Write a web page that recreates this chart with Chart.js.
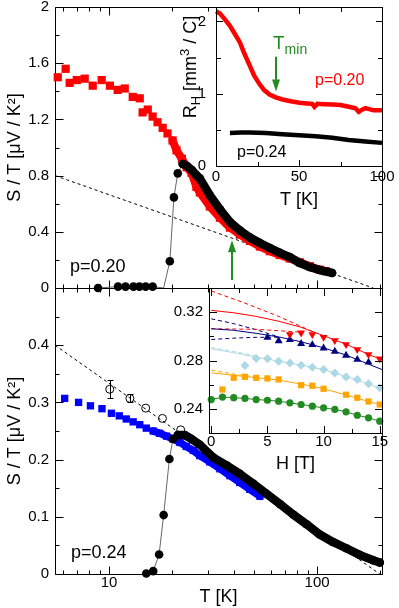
<!DOCTYPE html>
<html>
<head>
<meta charset="utf-8">
<script src="https://cdn.jsdelivr.net/npm/chart.js@4.4.0/dist/chart.umd.min.js"></script>
<style>
  html, body { margin: 0; padding: 0; background: #fff; }
  #fig { position: relative; width: 399px; height: 608px; }
  #fig canvas { position: absolute; left: 0; top: 0; }
  #fig .edge { position: absolute; background: #000; }
</style>
</head>
<body>
<div id="fig">
  <canvas id="mainTop" width="399" height="608"></canvas>
  <canvas id="mainBot" width="399" height="608"></canvas>
  <canvas id="insetTop" width="399" height="608"></canvas>
  <canvas id="insetBot" width="399" height="608"></canvas>
</div>
<script>
// ---- tick values / labels ----
const T_TICKS = [6, 7, 8, 9, 10, 20, 30, 40, 50, 60, 70, 80, 90, 100, 200];
const T_LABELS = [10, 100];
const S20_TICKS = [0, 0.2, 0.4, 0.6, 0.8, 1, 1.2, 1.4, 1.6, 1.8, 2];
const S20_LABELS = [0, 0.4, 0.8, 1.2, 1.6, 2];
const S24_TICKS = [0, 0.05, 0.1, 0.15, 0.2, 0.25, 0.3, 0.35, 0.4, 0.45, 0.5];
const S24_LABELS = [0, 0.1, 0.2, 0.3, 0.4];
const RHT_TICKS = [0, 25, 50, 75, 100];
const RHT_LABELS = [0, 50, 100];
const RH_TICKS = [0, 0.5, 1, 1.5, 2];
const RH_LABELS = [0, 1, 2];
const H_TICKS = [0, 2.5, 5, 7.5, 10, 12.5, 15];
const H_LABELS = [0, 5, 10, 15];
const SH_TICKS = [0.24, 0.26, 0.28, 0.3, 0.32];
const SH_LABELS = [0.24, 0.28, 0.32];

// ---- upper panel, p=0.20 : S/T vs T ----
const RED20_T = [5.67, 6.19, 6.47, 7.0, 7.64, 8.35, 9.22, 10.1, 11.0, 11.9, 13.0, 14.05, 14.5, 15.35, 16.2, 17.1, 18.1, 19.1, 20.2, 21.1, 22.4, 23.6, 24.9, 26.3, 27.3, 30.5, 34.1, 38.1, 42.5, 47.5, 53.1, 59.3, 66.2, 73.9, 82.6, 92.3, 103, 110];
const RED20_V = [1.50, 1.56, 1.46, 1.48, 1.49, 1.44, 1.48, 1.44, 1.41, 1.42, 1.36, 1.35, 1.25, 1.27, 1.22, 1.18, 1.14, 1.10, 1.05, 0.98, 0.92, 0.86, 0.82, 0.72, 0.68, 0.58, 0.50, 0.43, 0.38, 0.335, 0.295, 0.262, 0.235, 0.21, 0.183, 0.155, 0.13, 0.12];
const BLK20_T = [8.85, 11.05, 12.0, 13.1, 14.0, 15.0, 16.2, 19.6, 20.5, 21.4, 22.6, 23.6, 25.0, 26.4, 27.3, 30.5, 34.1, 38.1, 42.5, 47.5, 53.1, 59.3, 66.2, 73.9, 82.6, 92.3, 103, 118];
const BLK20_V = [0, 0.01, 0.01, 0.01, 0.01, 0.01, 0.01, 0.19, 0.645, 0.816, 0.883, 0.87, 0.84, 0.80, 0.78, 0.66, 0.56, 0.47, 0.41, 0.36, 0.32, 0.285, 0.25, 0.22, 0.178, 0.149, 0.128, 0.107];
const TR20_T = [8.85, 11.05, 12.0, 13.1, 14.0, 15.0, 16.2, 18.3, 19.6, 20.5, 21.4, 22.6];
const TR20_V = [0, 0.01, 0.01, 0.01, 0.01, 0.01, 0.01, 0, 0.19, 0.645, 0.816, 0.883];
const DASH20_T = [5.5, 186];
const DASH20_V = [0.8, 0];

// ---- lower panel, p=0.24 ----
const BLUE24_T = [6.12, 7.14, 8.14, 9.25, 10.27, 11.2, 12.1, 13.06, 14.05, 15.1, 16.3, 17.5, 18.9, 20.3, 21.9, 23.5, 25.4, 27.3, 30.5, 34.1, 38.1, 42.5, 47.5, 53.1];
const BLUE24_V = [0.307, 0.300, 0.294, 0.289, 0.281, 0.2765, 0.271, 0.266, 0.261, 0.255, 0.250, 0.246, 0.241, 0.236, 0.230, 0.223, 0.216, 0.207, 0.196, 0.184, 0.172, 0.160, 0.148, 0.136];
const BLK24_T = [15.1, 16.3, 17.4, 18.3, 19.5, 20.3, 21.4, 23.1, 24.9, 27.3, 31.6, 36.7, 42.5, 49.3, 57.2, 66.4, 76.7, 88.9, 103, 119, 138, 161, 186, 200];
const BLK24_V = [0.001, 0.005, 0.034, 0.103, 0.201, 0.236, 0.243, 0.243, 0.236, 0.226, 0.204, 0.190, 0.175, 0.158, 0.140, 0.122, 0.104, 0.087, 0.069, 0.056, 0.045, 0.033, 0.024, 0.020];
const OPEN_T = [10.08, 12.6, 15.0, 18.06, 22.1];
const OPEN_V = [0.323, 0.307, 0.290, 0.272, 0.252];
const OPEN_ERR = [0.016, 0.007, 0, 0, 0];
const DASH24_T = [5.5, 200];
const DASH24_V = [0.4, 0];

// ---- upper inset: R_H vs T ----
const RH20_T = [0, 2.4, 5, 8.4, 11, 14.4, 17, 20.4, 23, 26.3, 29, 32.3, 36, 40.1, 45, 50.3, 55, 58, 59.3, 61, 65, 70, 75, 80, 84, 86, 88, 90, 95, 100];
const RH20_V = [2.14, 2.11, 2.04, 1.94, 1.84, 1.71, 1.56, 1.385, 1.25, 1.13, 1.05, 0.99, 0.95, 0.92, 0.895, 0.875, 0.865, 0.86, 0.82, 0.86, 0.855, 0.85, 0.845, 0.82, 0.80, 0.75, 0.78, 0.80, 0.77, 0.77];
const RH24_T = [8.4, 15, 20.4, 30, 40, 50, 60, 70, 80, 90, 100];
const RH24_V = [0.456, 0.462, 0.465, 0.455, 0.44, 0.425, 0.41, 0.39, 0.36, 0.34, 0.32];

// ---- lower inset: S/T vs H ----
const RED_H = [7, 8, 9, 10, 11, 12, 13, 14, 15];
const RED_S = [0.3015, 0.3029, 0.3015, 0.2993, 0.2966, 0.2933, 0.2891, 0.2850, 0.2814];
const NAVY_H = [5, 6, 7, 8, 9, 10, 11, 12, 13, 14];
const NAVY_S = [0.2990, 0.2962, 0.2972, 0.2940, 0.2930, 0.2902, 0.2875, 0.2842, 0.2808, 0.2785];
const LB_H = [3, 4, 5, 6, 7, 8, 9, 10, 11, 12, 13, 14, 15];
const LB_S = [0.2759, 0.2817, 0.2814, 0.2794, 0.2780, 0.2761, 0.2744, 0.2725, 0.2697, 0.2664, 0.2642, 0.2607, 0.2574];
const OR_H = [1, 2, 3, 4, 5, 6, 8, 9, 10, 12, 13, 14, 15];
const OR_S = [0.2560, 0.2657, 0.2665, 0.2657, 0.2652, 0.2643, 0.2596, 0.2591, 0.2566, 0.2517, 0.2492, 0.2461, 0.2436];
const GR_H = [0, 1, 2, 3, 4, 5, 6, 7, 8, 9, 10, 11, 12, 13, 14, 15];
const GR_S = [0.2477, 0.2497, 0.2492, 0.2486, 0.2477, 0.2471, 0.2463, 0.2450, 0.2436, 0.2422, 0.2408, 0.2395, 0.2375, 0.2347, 0.2326, 0.2298];
const FIT_H = [0, 2, 4, 6, 8, 10, 12, 14, 15.2];
const RED_FIT = [0.3215, 0.3195, 0.3165, 0.3125, 0.3075, 0.3005, 0.2935, 0.2850, 0.2805];
const NAVY_FIT = [0.3063, 0.3050, 0.3025, 0.2995, 0.2955, 0.2905, 0.2845, 0.2770, 0.2725];
const LB_FIT = [0.2897, 0.2865, 0.2828, 0.2795, 0.2762, 0.2725, 0.2668, 0.2605, 0.2565];
const OR_FIT = [0.2698, 0.2678, 0.2658, 0.2638, 0.2605, 0.2566, 0.2515, 0.2461, 0.2432];
const RED_D1_H = [0, 3, 6, 9];
const RED_D1 = [0.3375, 0.3275, 0.3165, 0.3040];
const RED_D2_H = [0, 4, 8];
const RED_D2 = [0.3063, 0.3058, 0.3035];
const NAVY_D_H = [0, 2, 4, 6];
const NAVY_D1 = [0.3145, 0.3105, 0.3055, 0.2995];
const NAVY_D2 = [0.2974, 0.2985, 0.2992, 0.2992];
const LBOR_D_H = [0, 2, 4];
const LB_D = [0.2908, 0.2875, 0.2838];
const OR_D = [0.2720, 0.2688, 0.2664];

const FONT = '"Liberation Sans", Arial, Helvetica, sans-serif';
const RED = '#ff0000', BLUE = '#0000ff', NAVY = '#000080', LBLUE = '#add8e6', ORANGE = '#ffa500', GREEN = '#228b22';

Chart.defaults.font.family = FONT;
Chart.defaults.font.size = 15;
Chart.defaults.color = '#000';

const pts = (xs, ys) => xs.map((x, i) => ({ x, y: ys[i] }));

function axis(type, min, max, ticks, labels, o) {
  return {
    type, min, max,
    grid: { display: false, drawTicks: false },
    border: { display: false },
    afterBuildTicks: s => { s.ticks = ticks.map(v => ({ value: v })); },
    afterFit: s => {
      if (o.w !== undefined) s.width = o.w;
      if (o.h !== undefined) s.height = o.h;
      s.paddingLeft = s.paddingRight = s.paddingTop = s.paddingBottom = 0;
    },
    ticks: {
      display: o.showLabels !== false, autoSkip: false, maxRotation: 0, minRotation: 0,
      padding: o.pad || 0, font: { size: 15 },
      callback: v => labels.includes(v) ? String(v) : ''
    },
    title: o.title ? { display: true, text: o.title, font: { size: 18 }, padding: o.tpad } : { display: false }
  };
}

function markers(xs, ys, style, r, color, extra) {
  return Object.assign({
    data: pts(xs, ys), pointStyle: style, pointRadius: r,
    pointBackgroundColor: color, pointBorderColor: color, pointBorderWidth: 0,
    showLine: false, clip: false
  }, extra || {});
}

function curve(xs, ys, color, width, dash) {
  return {
    data: pts(xs, ys), showLine: true, pointRadius: 0, borderColor: color,
    borderWidth: width, borderDash: dash || [], clip: false
  };
}

// dense part of a series drawn as a thick band under its markers
function band(fromX, color, width) {
  return {
    showLine: true, borderWidth: width, borderColor: color,
    borderJoinStyle: 'round', borderCapStyle: 'round',
    segment: { borderColor: c => c.p0.parsed.x >= fromX ? color : 'rgba(0,0,0,0)' }
  };
}

function drawRich(ctx, parts, x, y, color, align, angle) {
  ctx.save();
  ctx.translate(x, y);
  if (angle) ctx.rotate(angle);
  ctx.fillStyle = color;
  ctx.textBaseline = 'middle';
  ctx.textAlign = 'left';
  let w = 0;
  for (const [t, s] of parts) { ctx.font = s + 'px ' + FONT; w += ctx.measureText(t).width; }
  let cx = align === 'center' ? -w / 2 : 0;
  for (const [t, s, dy] of parts) {
    ctx.font = s + 'px ' + FONT;
    ctx.fillText(t, cx, dy || 0);
    cx += ctx.measureText(t).width;
  }
  ctx.restore();
}

// frame + inward ticks on the canvas (main panels)
function strokeFrame(chart, d) {
  const { ctx, chartArea: a } = chart;
  const xs = chart.scales.x, ys = chart.scales.y;
  const L = Math.round(a.left) + 0.5, R = Math.round(a.right) + 0.5;
  const T = Math.round(a.top) + 0.5, B = Math.round(a.bottom) + 0.5;
  ctx.save();
  ctx.strokeStyle = '#000';
  ctx.lineWidth = 1;
  ctx.setLineDash([]);
  ctx.beginPath();
  for (const t of xs.ticks) {
    const p = Math.round(xs.getPixelForValue(t.value)) + 0.5;
    const n = d.xMajor.includes(t.value) ? d.big : d.small;
    ctx.moveTo(p, B); ctx.lineTo(p, B - n);
    ctx.moveTo(p, T); ctx.lineTo(p, T + n);
  }
  for (const t of ys.ticks) {
    const p = Math.round(ys.getPixelForValue(t.value)) + 0.5;
    const n = d.yMajor.includes(t.value) ? d.big : d.small;
    ctx.moveTo(L, p); ctx.lineTo(L + n, p);
    ctx.moveTo(R, p); ctx.lineTo(R - n, p);
  }
  ctx.moveTo(L, T); ctx.lineTo(R, T); ctx.lineTo(R, B); ctx.lineTo(L, B); ctx.closePath();
  ctx.stroke();
  ctx.restore();
}

// same frame + ticks for the insets, laid over the page from the inset's scales
function overlayFrame(chart, d) {
  const fig = document.getElementById('fig');
  const a = chart.chartArea;
  const xs = chart.scales.x, ys = chart.scales.y;
  const L = Math.round(a.left), R = Math.round(a.right);
  const T = Math.round(a.top), B = Math.round(a.bottom);
  const bar = (x, y, w, h) => {
    const e = document.createElement('div');
    e.className = 'edge';
    e.style.left = x + 'px'; e.style.top = y + 'px';
    e.style.width = w + 'px'; e.style.height = h + 'px';
    fig.appendChild(e);
  };
  bar(L, T, R - L + 1, 1);
  bar(L, B, R - L + 1, 1);
  bar(L, T, 1, B - T + 1);
  bar(R, T, 1, B - T + 1);
  for (const t of xs.ticks) {
    const p = Math.round(xs.getPixelForValue(t.value));
    const n = d.xMajor.includes(t.value) ? d.big : d.small;
    bar(p, B - n, 1, n);
    bar(p, T + 1, 1, n);
  }
  for (const t of ys.ticks) {
    const p = Math.round(ys.getPixelForValue(t.value));
    const n = d.yMajor.includes(t.value) ? d.big : d.small;
    bar(L + 1, p, n, 1);
    bar(R - n, p, n, 1);
  }
}

function drawNotes(chart, items) {
  const { ctx } = chart;
  const xs = chart.scales.x, ys = chart.scales.y;
  for (const n of items) {
    const px = Math.round(xs.getPixelForValue(n.x));
    if (n.arrow) {
      const y0 = ys.getPixelForValue(n.from), y1 = ys.getPixelForValue(n.to);
      const dir = Math.sign(y1 - y0);
      ctx.save();
      ctx.strokeStyle = n.color;
      ctx.fillStyle = n.color;
      ctx.lineWidth = 2;
      ctx.setLineDash([]);
      ctx.beginPath(); ctx.moveTo(px, y0); ctx.lineTo(px, y1 - dir * 10); ctx.stroke();
      ctx.beginPath();
      ctx.moveTo(px, y1);
      ctx.lineTo(px - 4, y1 - dir * 12);
      ctx.lineTo(px + 4, y1 - dir * 12);
      ctx.closePath(); ctx.fill();
      ctx.restore();
    } else {
      drawRich(ctx, n.parts, px, ys.getPixelForValue(n.y), n.color || '#000', 'left');
    }
  }
}

function drawErrorBars(chart) {
  const { ctx } = chart;
  const xs = chart.scales.x, ys = chart.scales.y;
  ctx.save();
  ctx.strokeStyle = '#000';
  ctx.lineWidth = 1;
  ctx.setLineDash([]);
  ctx.beginPath();
  OPEN_T.forEach((t, i) => {
    if (!OPEN_ERR[i]) return;
    const px = Math.round(xs.getPixelForValue(t)) + 0.5;
    const hi = Math.round(ys.getPixelForValue(OPEN_V[i] + OPEN_ERR[i])) + 0.5;
    const lo = Math.round(ys.getPixelForValue(OPEN_V[i] - OPEN_ERR[i])) + 0.5;
    ctx.moveTo(px, hi); ctx.lineTo(px, lo);
    ctx.moveTo(px - 3, hi); ctx.lineTo(px + 3, hi);
    ctx.moveTo(px - 3, lo); ctx.lineTo(px + 3, lo);
  });
  ctx.stroke();
  ctx.restore();
}

// one decoration plugin per chart
function deco(id, d) {
  return {
    id,
    beforeDatasetsDraw(chart) {
      if (d.inset) {
        const { ctx, chartArea: a } = chart;
        ctx.save();
        ctx.fillStyle = '#fff';
        ctx.fillRect(a.left, a.top, a.right - a.left + 1, a.bottom - a.top + 1);
        ctx.restore();
      } else {
        strokeFrame(chart, d);
      }
    },
    afterDraw(chart) {
      if (d.errors) drawErrorBars(chart);
      if (d.notes) drawNotes(chart, d.notes);
      if (d.rhTitle) {
        const a = chart.chartArea;
        drawRich(chart.ctx, [['R', 18], ['H', 13, 5], [' [mm', 18], ['3', 13, -6], [' / C]', 18]],
          a.left - 25, a.top + 60, '#000', 'center', -Math.PI / 2);
      }
    }
  };
}

function opts(padding, scales) {
  return {
    animation: false, responsive: false, devicePixelRatio: 1, events: [],
    plugins: { legend: { display: false }, tooltip: { enabled: false } },
    layout: { autoPadding: false, padding },
    scales
  };
}

// ---------- upper main panel ----------
new Chart(document.getElementById('mainTop'), {
  type: 'scatter',
  data: { datasets: [
    markers(BLK20_T, BLK20_V, 'circle', 4.3, '#000', band(22.5, '#000', 8.5)),
    curve(TR20_T, TR20_V, '#666', 1),
    markers(RED20_T, RED20_V, 'rect', 5.8, RED, band(20, RED, 8)),
    curve(DASH20_T, DASH20_V, '#000', 1, [3, 3])
  ] },
  options: opts({ left: 0, top: 7, right: 17, bottom: 320 }, {
    x: axis('logarithmic', 5.5, 205, T_TICKS, T_LABELS, { h: 0, showLabels: false }),
    y: axis('linear', 0, 2, S20_TICKS, S20_LABELS, { w: 55, pad: 6, title: 'S / T [\u03BCV / K\u00B2]', tpad: { top: 4, bottom: 0 } })
  }),
  plugins: [deco('decoMainTop', {
    xMajor: T_LABELS, yMajor: S20_LABELS, big: 8, small: 4,
    notes: [
      { x: 6.52, y: 0.15, parts: [['p=0.20', 18]] },
      { arrow: true, x: 38.9, from: 0.057, to: 0.34, color: GREEN }
    ]
  })]
});

// ---------- lower main panel ----------
new Chart(document.getElementById('mainBot'), {
  type: 'scatter',
  data: { datasets: [
    markers(BLK24_T, BLK24_V, 'circle', 4.3, '#000', band(21, '#000', 8.5)),
    curve(BLK24_T.slice(0, 7), BLK24_V.slice(0, 7), '#666', 1),
    markers(OPEN_T, OPEN_V, 'circle', 4, 'rgba(0,0,0,0)', { pointBorderColor: '#000', pointBorderWidth: 1 }),
    markers(BLUE24_T, BLUE24_V, 'rect', 5.2, BLUE, band(16, BLUE, 7.5)),
    curve(DASH24_T, DASH24_V, '#000', 1, [3, 3])
  ] },
  options: opts({ left: 0, top: 288, right: 17, bottom: 0 }, {
    x: axis('logarithmic', 5.5, 205, T_TICKS, T_LABELS, { h: 34, pad: 0, title: 'T [K]', tpad: { top: 0, bottom: 0 } }),
    y: axis('linear', 0, 0.5, S24_TICKS, S24_LABELS, { w: 55, pad: 6, title: 'S / T [\u03BCV / K\u00B2]', tpad: { top: 4, bottom: 0 } })
  }),
  plugins: [deco('decoMainBot', {
    xMajor: T_LABELS, yMajor: S24_LABELS, big: 8, small: 4, errors: true,
    notes: [{ x: 6.6, y: 0.037, parts: [['p=0.24', 18]] }]
  })]
});

// ---------- upper inset ----------
const insetTopSpec = {
  inset: true, xMajor: RHT_LABELS, yMajor: RH_LABELS, big: 6, small: 4, rhTitle: true,
  notes: [
    { x: 59.4, y: 1.185, parts: [['p=0.20', 16]], color: RED },
    { x: 12.6, y: 0.18, parts: [['p=0.24', 16]] },
    { x: 34.2, y: 1.69, parts: [['T', 19], ['min', 14, 6]], color: GREEN },
    { arrow: true, x: 36.4, from: 1.51, to: 1.03, color: GREEN }
  ]
};
const insetTop = new Chart(document.getElementById('insetTop'), {
  type: 'scatter',
  data: { datasets: [
    curve(RH24_T, RH24_V, '#000', 4.5),
    curve(RH20_T, RH20_V, RED, 4.5)
  ] },
  options: opts({ left: 180, top: 7, right: 17, bottom: 397 }, {
    x: axis('linear', 0, 100, RHT_TICKS, RHT_LABELS, { h: 45, pad: 2, title: 'T [K]', tpad: { top: 0, bottom: 0 } }),
    y: axis('linear', 0, 2.2, RH_TICKS, RH_LABELS, { w: 36, pad: 10 })
  }),
  plugins: [deco('decoInsetTop', insetTopSpec)]
});
overlayFrame(insetTop, insetTopSpec);

// ---------- lower inset ----------
const insetBotSpec = { inset: true, xMajor: H_LABELS, yMajor: SH_LABELS, big: 7, small: 4 };
const insetBot = new Chart(document.getElementById('insetBot'), {
  type: 'scatter',
  data: { datasets: [
    markers(RED_H, RED_S, 'triangle', 4.6, RED, { pointRotation: 180 }),
    markers(NAVY_H, NAVY_S, 'triangle', 4.6, NAVY),
    markers(LB_H, LB_S, 'rectRot', 4.5, LBLUE),
    markers(OR_H, OR_S, 'rect', 4.4, ORANGE),
    markers(GR_H, GR_S, 'circle', 3.6, GREEN, { showLine: true, borderColor: GREEN, borderWidth: 1 }),
    curve(FIT_H, RED_FIT, RED, 1),
    curve(FIT_H, NAVY_FIT, NAVY, 1),
    curve(FIT_H, LB_FIT, LBLUE, 1),
    curve(FIT_H, OR_FIT, ORANGE, 1),
    curve(RED_D1_H, RED_D1, RED, 1, [4, 3]),
    curve(RED_D2_H, RED_D2, RED, 1, [4, 3]),
    curve(NAVY_D_H, NAVY_D1, NAVY, 1, [4, 3]),
    curve(NAVY_D_H, NAVY_D2, NAVY, 1, [4, 3]),
    curve(LBOR_D_H, LB_D, LBLUE, 1, [4, 3]),
    curve(LBOR_D_H, OR_D, ORANGE, 1, [4, 3])
  ] },
  options: opts({ left: 150, top: 288, right: 17, bottom: 132 }, {
    x: axis('linear', -0.2, 15.2, H_TICKS, H_LABELS, { h: 43, pad: 0, title: 'H [T]', tpad: { top: 0, bottom: 1 } }),
    y: axis('linear', 0.22, 0.34, SH_TICKS, SH_LABELS, { w: 59, pad: 6 })
  }),
  plugins: [deco('decoInsetBot', insetBotSpec)]
});
overlayFrame(insetBot, insetBotSpec);
</script>
</body>
</html>
